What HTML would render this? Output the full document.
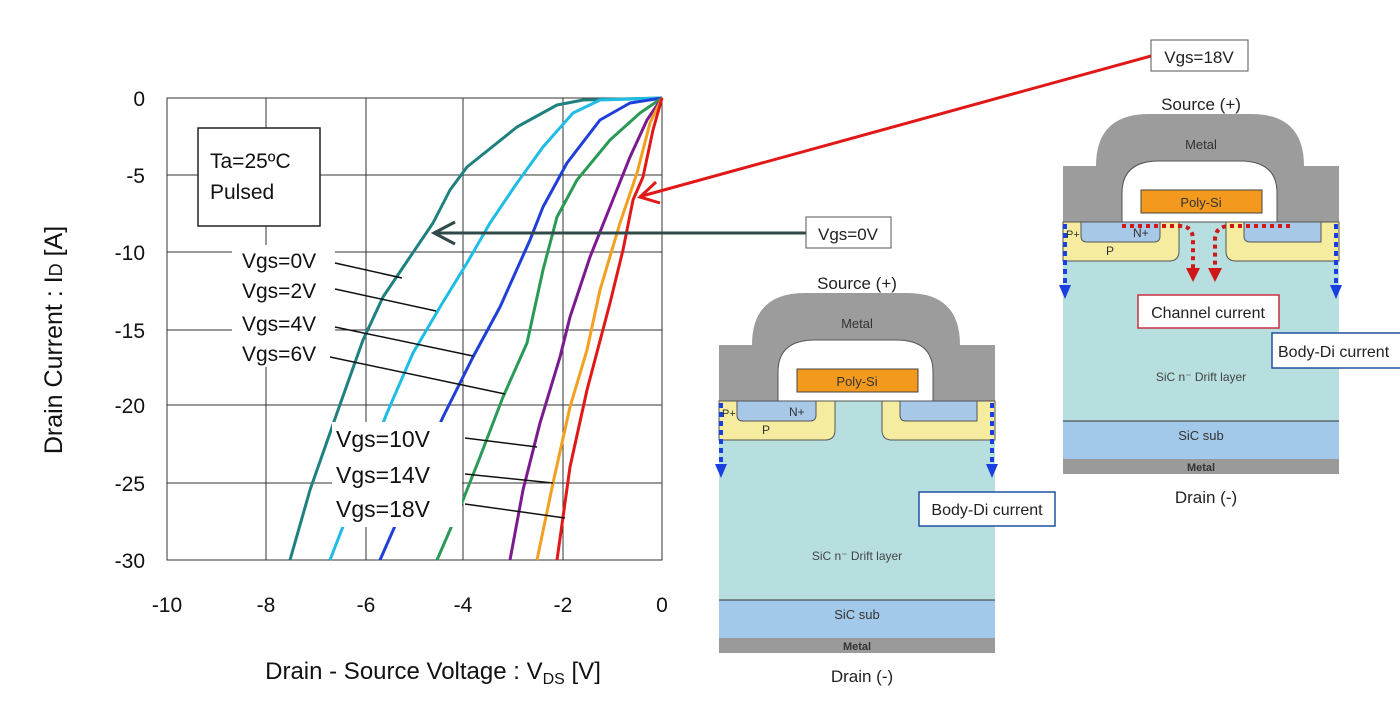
<!DOCTYPE html>
<html><head><meta charset="utf-8"><style>
html,body{margin:0;padding:0;background:#fff;}
svg{display:block;font-family:"Liberation Sans",Arial,sans-serif;}
</style></head><body>
<svg width="1400" height="722" viewBox="0 0 1400 722" xmlns="http://www.w3.org/2000/svg">
<defs>
<g id="dev">
  <rect x="719" y="401" width="276" height="199" fill="#b7dfe0"/>
  <rect x="719" y="600" width="276" height="38" fill="#a2c8ea"/>
  <line x1="719" y1="600" x2="995" y2="600" stroke="#333" stroke-width="1"/>
  <rect x="719" y="638" width="276" height="15" fill="#9a9a9a"/>
  <path d="M719,345 L752,345 Q752,293 805,293 L907,293 Q960,293 960,345 L995,345 L995,401 L719,401 Z" fill="#9c9c9c"/>
  <path d="M778,401 L778,372 Q778,340 815,340 L896,340 Q933,340 933,372 L933,401 Z" fill="#fff" stroke="#555" stroke-width="1"/>
  <rect x="797" y="369" width="121" height="23" fill="#f39a1e" stroke="#444" stroke-width="1"/>
  <path d="M719,401 L835,401 L835,430 Q835,440 825,440 L719,440 Z" fill="#f5eca0" stroke="#555" stroke-width="1"/>
  <path d="M995,401 L882,401 L882,430 Q882,440 892,440 L995,440 Z" fill="#f5eca0" stroke="#555" stroke-width="1"/>
  <path d="M737,401 L816,401 L816,415 Q816,421 810,421 L743,421 Q737,421 737,415 Z" fill="#a8c8e8" stroke="#555" stroke-width="1"/>
  <path d="M900,401 L977,401 L977,421 L906,421 Q900,421 900,415 Z" fill="#a8c8e8" stroke="#555" stroke-width="1"/>
  <line x1="719" y1="401" x2="995" y2="401" stroke="#555" stroke-width="1"/>
  <text x="857" y="328" font-size="13" text-anchor="middle" fill="#333">Metal</text>
  <text x="857" y="386" font-size="13" text-anchor="middle" fill="#333">Poly-Si</text>
  <text x="722" y="417" font-size="11" fill="#333">P+</text>
  <text x="789" y="416" font-size="12" fill="#333">N+</text>
  <text x="762" y="434" font-size="12" fill="#333">P</text>
  <text x="857" y="560" font-size="12" text-anchor="middle" fill="#444">SiC n⁻ Drift layer</text>
  <text x="857" y="619" font-size="13" text-anchor="middle" fill="#333">SiC sub</text>
  <text x="857" y="650" font-size="11" text-anchor="middle" fill="#333" font-weight="bold">Metal</text>
  <text x="857" y="289" font-size="17" text-anchor="middle" fill="#222">Source (+)</text>
  <text x="862" y="682" font-size="17" text-anchor="middle" fill="#222">Drain (-)</text>
  <line x1="721" y1="403" x2="721" y2="465" stroke="#1a3fe0" stroke-width="4" stroke-dasharray="5,4"/>
  <path d="M715,464 L727,464 L721,478 Z" fill="#1a3fe0"/>
  <line x1="992" y1="403" x2="992" y2="465" stroke="#1a3fe0" stroke-width="4" stroke-dasharray="5,4"/>
  <path d="M986,464 L998,464 L992,478 Z" fill="#1a3fe0"/>
</g>
</defs>

<!-- grid -->
<g stroke="#333" stroke-width="1" fill="none">
  <rect x="167" y="98" width="495" height="462"/>
  <line x1="266" y1="98" x2="266" y2="560"/>
  <line x1="366" y1="98" x2="366" y2="560"/>
  <line x1="463" y1="98" x2="463" y2="560"/>
  <line x1="563" y1="98" x2="563" y2="560"/>
  <line x1="167" y1="175" x2="662" y2="175"/>
  <line x1="167" y1="252" x2="662" y2="252"/>
  <line x1="167" y1="330" x2="662" y2="330"/>
  <line x1="167" y1="405" x2="662" y2="405"/>
  <line x1="167" y1="483" x2="662" y2="483"/>
</g>
<rect x="232" y="245" width="103" height="122" fill="#fff"/>
<rect x="198" y="128" width="122" height="98" fill="#fff" stroke="#222" stroke-width="1.5"/>
<text x="210" y="168" font-size="21" fill="#111">Ta=25ºC</text>
<text x="210" y="199" font-size="21" fill="#111">Pulsed</text>

<!-- curves -->
<g fill="none" stroke-width="3" stroke-linejoin="round">
<polyline stroke="#1f8080" points="662,98 583,100 557,105 517,127 467,167 450,190 433,223 410,257 383,297 363,340 337,413 310,490 290,560"/>
<polyline stroke="#1fbce6" points="662,98 600,100 573,113 543,147 517,183 490,223 467,263 440,307 413,353 387,413 330,560"/>
<polyline stroke="#1e3fd8" points="662,98 630,103 600,120 567,163 543,207 530,240 500,307 473,357 443,417 380,560"/>
<polyline stroke="#2a9a55" points="662,98 640,113 610,140 577,180 557,217 543,270 527,343 503,397 480,457 463,500 437,560"/>
<polyline stroke="#7a1a8e" points="662,98 647,120 630,157 610,207 590,257 570,317 560,357 540,423 523,490 510,560"/>
<polyline stroke="#f2a020" points="662,98 650,123 637,173 620,223 600,290 587,350 570,407 553,483 537,560"/>
<polyline stroke="#e01818" points="662,98 653,130 643,177 633,200 623,250 610,303 587,390 570,467 557,560"/>
</g>
<rect x="332" y="422" width="130" height="105" fill="#fff"/>

<!-- leader lines -->
<g stroke="#111" stroke-width="1.5">
<line x1="335" y1="263" x2="402" y2="278"/>
<line x1="335" y1="289" x2="436" y2="311"/>
<line x1="335" y1="327" x2="473" y2="356"/>
<line x1="330" y1="357" x2="505" y2="394"/>
<line x1="465" y1="438" x2="537" y2="447"/>
<line x1="465" y1="474" x2="553" y2="483"/>
<line x1="465" y1="504" x2="565" y2="518"/>
</g>
<g font-size="21" fill="#111">
<text x="242" y="268">Vgs=0V</text>
<text x="242" y="298">Vgs=2V</text>
<text x="242" y="331">Vgs=4V</text>
<text x="242" y="361">Vgs=6V</text>
<text x="336" y="447" font-size="23">Vgs=10V</text>
<text x="336" y="483" font-size="23">Vgs=14V</text>
<text x="336" y="517" font-size="23">Vgs=18V</text>
</g>

<!-- axes labels -->
<g font-size="21" fill="#111" text-anchor="end">
<text x="145" y="106">0</text>
<text x="145" y="183">-5</text>
<text x="145" y="260">-10</text>
<text x="145" y="338">-15</text>
<text x="145" y="413">-20</text>
<text x="145" y="491">-25</text>
<text x="145" y="568">-30</text>
</g>
<g font-size="21" fill="#111" text-anchor="middle">
<text x="167" y="612">-10</text>
<text x="266" y="612">-8</text>
<text x="366" y="612">-6</text>
<text x="463" y="612">-4</text>
<text x="563" y="612">-2</text>
<text x="662" y="612">0</text>
</g>
<text x="433" y="679" font-size="24" fill="#111" text-anchor="middle">Drain - Source Voltage : V<tspan font-size="16" dy="5">DS</tspan><tspan dy="-5"> [V]</tspan></text>
<text transform="translate(62,340) rotate(-90)" font-size="25" fill="#111" text-anchor="middle">Drain Current : I<tspan font-size="18">D</tspan> [A]</text>

<!-- devices -->
<use href="#dev"/>
<use href="#dev" transform="translate(344,-179)"/>

<!-- right device channel current -->
<g fill="none" stroke="#d01818" stroke-width="4" stroke-dasharray="4,4">
<path d="M1122,226 L1180,226 Q1193,226 1193,240 L1193,268"/>
<path d="M1290,226 L1230,226 Q1215,226 1215,240 L1215,268"/>
</g>
<path d="M1186,268 L1200,268 L1193,282 Z" fill="#d01818"/>
<path d="M1208,268 L1222,268 L1215,282 Z" fill="#d01818"/>

<!-- callout boxes -->
<rect x="1138" y="295" width="141" height="33" fill="#fff" stroke="#c83040" stroke-width="1.5"/>
<text x="1208" y="318" font-size="16" fill="#222" text-anchor="middle">Channel current</text>
<rect x="1272" y="333" width="130" height="35" fill="#fff" stroke="#2050a0" stroke-width="1.5"/>
<text x="1278" y="357" font-size="16" fill="#222">Body-Di current</text>
<rect x="919" y="492" width="136" height="34" fill="#fff" stroke="#2050a0" stroke-width="1.5"/>
<text x="987" y="515" font-size="16" fill="#222" text-anchor="middle">Body-Di current</text>

<!-- Vgs=0V arrow -->
<line x1="806" y1="233" x2="436" y2="233" stroke="#2f4a48" stroke-width="3"/>
<polyline points="455,222 434,233 455,244" fill="none" stroke="#2f4a48" stroke-width="3"/>
<rect x="806" y="217" width="85" height="31" fill="#fff" stroke="#555" stroke-width="1"/>
<text x="848" y="240" font-size="17" fill="#222" text-anchor="middle">Vgs=0V</text>

<!-- Vgs=18V arrow -->
<line x1="1151" y1="56" x2="642" y2="196" stroke="#e01818" stroke-width="3"/>
<polyline points="656,182 640,197 660,203" fill="none" stroke="#e01818" stroke-width="3"/>
<rect x="1151" y="40" width="97" height="31" fill="#fff" stroke="#555" stroke-width="1"/>
<text x="1199" y="63" font-size="17" fill="#222" text-anchor="middle">Vgs=18V</text>
</svg>
</body></html>
